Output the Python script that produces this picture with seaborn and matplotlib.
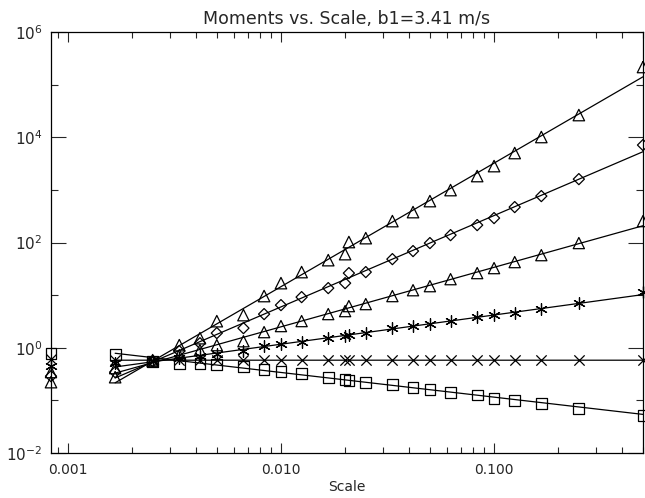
import numpy as np
import pandas as pd
import seaborn as sns
import matplotlib
matplotlib.use("Agg")
import matplotlib.pyplot as plt
from matplotlib.ticker import FixedLocator, FuncFormatter, NullFormatter

# scale index: divisors of 600, scale = n / 1200
n_steps = [1, 2, 3, 4, 5, 6, 8, 10, 12, 15, 20, 24, 25, 30, 40, 50, 60, 75, 100, 120, 150, 200, 300, 600]
scale = [n / 1200.0 for n in n_steps]

squares = [0.789, 0.755, 0.556, 0.509, 0.509, 0.488, 0.447, 0.392, 0.359, 0.329, 0.276, 0.253,
           0.242, 0.222, 0.203, 0.178, 0.163, 0.143, 0.126, 0.110, 0.101, 0.0885, 0.0711, 0.0524]
crosses = [0.60, 0.59, 0.57, 0.58, 0.58, 0.58, 0.58, 0.58, 0.58, 0.58, 0.58, 0.58,
           0.58, 0.58, 0.58, 0.58, 0.58, 0.58, 0.58, 0.58, 0.58, 0.58, 0.58, 0.58]
asterisks = [0.447, 0.509, 0.556, 0.634, 0.692, 0.755, 0.861, 1.07, 1.17, 1.28, 1.52, 1.66,
             1.74, 1.90, 2.36, 2.58, 2.81, 3.21, 3.82, 4.17, 4.55, 5.42, 7.05, 11.4]
small_tri = [0.344, 0.409, 0.556, 0.723, 0.900, 1.12, 1.33, 1.98, 2.58, 3.21, 4.36, 4.97,
             6.18, 6.75, 9.58, 12.4, 14.8, 20.1, 26.2, 32.6, 42.4, 57.5, 97.5, 255]
diamonds = [0.288, 0.344, 0.556, 0.861, 1.22, 1.90, 2.36, 4.36, 6.46, 9.17, 13.6, 16.9,
            26.2, 27.4, 48.3, 68.7, 97.5, 138, 214, 291, 471, 762, 1600, 7110]
big_tri = [0.222, 0.276, 0.581, 1.12, 1.52, 3.2, 4.17, 9.6, 16.9, 27.4, 46.2, 60.1,
           102, 121, 255, 378, 612, 991, 1830, 2830, 5010, 10100, 26400, 216000]

series = {
    "squares": (squares, "s", 60),
    "crosses": (crosses, "x", 55),
    "asterisks": (asterisks, (6, 2, 0), 70),
    "small_tri": (small_tri, "^", 65),
    "diamonds": (diamonds, "D", 32),
    "big_tri": (big_tri, "^", 68),
}

sns.set_style("ticks")
plt.rcParams["font.family"] = ["DejaVu Sans"]

fig = plt.figure(figsize=(6.45, 4.98), dpi=100)
ax = fig.add_axes([51 / 645, 1 - 453 / 498, 592 / 645, 421 / 498])

for name, (vals, mk, sz) in series.items():
    df = pd.DataFrame({"scale": scale, "value": vals})
    # power law fit over n >= 2, drawn from n=2 to the last scale
    fit = df.iloc[1:]
    b, a = np.polyfit(np.log10(fit["scale"]), np.log10(fit["value"]), 1)
    line = pd.DataFrame({"scale": [scale[1], scale[-1]]})
    line["value"] = 10 ** (a + b * np.log10(line["scale"]))
    sns.lineplot(data=line, x="scale", y="value", color="black", linewidth=0.9, ax=ax)
    if mk in ("x", (6, 2, 0)):
        sns.scatterplot(data=df, x="scale", y="value", marker=mk, s=sz, color="black",
                        linewidth=0.9, ax=ax, clip_on=False, zorder=3)
    else:
        sns.scatterplot(data=df, x="scale", y="value", marker=mk, s=sz, facecolor="none",
                        edgecolor="black", linewidth=0.9, ax=ax, clip_on=False, zorder=3)

ax.set_xscale("log")
ax.set_yscale("log")
ax.set_xlim(scale[0], scale[-1])
ax.set_ylim(1e-2, 1e6)

ax.xaxis.set_major_locator(FixedLocator([0.001, 0.01, 0.1]))
ax.xaxis.set_major_formatter(FuncFormatter(lambda v, p: "%.3f" % v))
ax.xaxis.set_minor_formatter(NullFormatter())
ax.yaxis.set_major_locator(FixedLocator([1e-2, 1e0, 1e2, 1e4, 1e6]))
ax.yaxis.set_minor_locator(FixedLocator([1e-1, 1e1, 1e3, 1e5]))
ax.yaxis.set_major_formatter(FuncFormatter(lambda v, p: r"$10^{%d}$" % round(np.log10(v))))
ax.yaxis.set_minor_formatter(NullFormatter())

ax.tick_params(axis="x", which="major", direction="in", length=7, width=0.8,
               top=True, labelsize=10, pad=7)
ax.tick_params(axis="x", which="minor", direction="in", length=4, width=0.8, top=True)
ax.tick_params(axis="y", which="major", direction="in", length=11, width=0.8,
               right=True, labelsize=11, pad=6)
ax.tick_params(axis="y", which="minor", direction="in", length=5, width=0.8, right=True)
for sp in ax.spines.values():
    sp.set_linewidth(0.9)
    sp.set_color("black")

ax.set_xlabel("Scale", fontsize=10, labelpad=2)
ax.set_ylabel("")
ax.set_title("Moments vs. Scale, b1=3.41 m/s", fontsize=12.5, pad=6)

fig.savefig("out.png", dpi=100)
